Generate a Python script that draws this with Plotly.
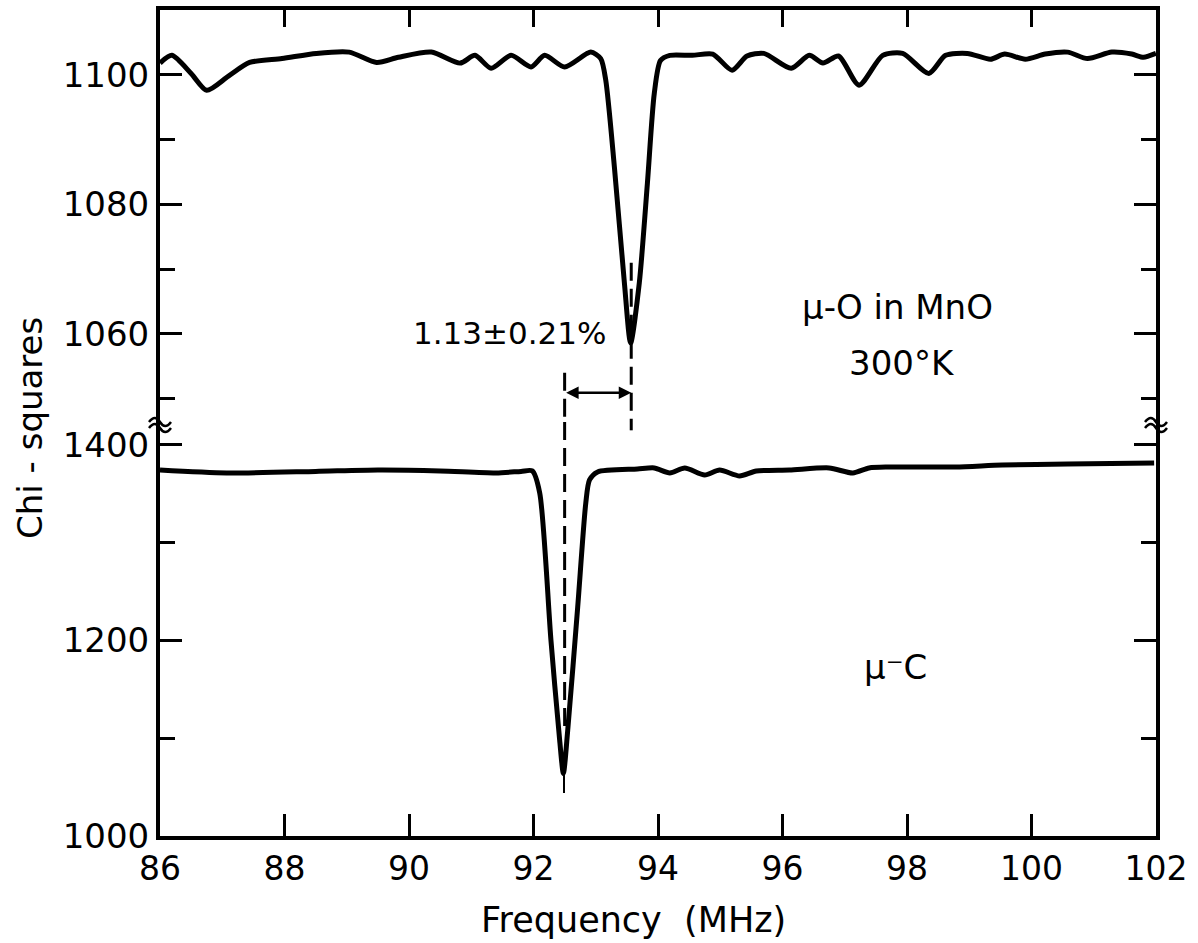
"""Chi-squares vs. frequency for mu-O in MnO and mu-C, rebuilt with Plotly."""

from __future__ import annotations

import plotly.graph_objects as go

# mu-O in MnO at 300 K (upper panel)
MNO_FREQ = [
    86.0, 86.19, 86.5, 86.75, 87.1, 87.44, 87.96, 88.51, 89.04, 89.48, 89.83,
    90.36, 90.82, 91.06, 91.32, 91.64, 91.96, 92.18, 92.5, 92.92, 93.08,
    93.16, 93.3, 93.46, 93.56, 93.7, 93.83, 93.94, 94.04, 94.19, 94.55,
    94.88, 95.19, 95.43, 95.7, 96.14, 96.43, 96.65, 96.9, 97.23, 97.61,
    97.93, 98.35, 98.62, 98.97, 99.34, 99.57, 99.9, 100.22, 100.58, 100.9,
    101.29, 101.61, 101.8, 102.0,
]
MNO_CHI2 = [
    1101.8, 1103.0, 1100.2, 1097.6, 1099.8, 1101.9, 1102.5, 1103.3, 1103.5,
    1101.9, 1102.7, 1103.5, 1101.8, 1103.0, 1101.0, 1103.0, 1101.2, 1103.0,
    1101.2, 1103.5, 1102.5, 1099.2, 1085.7, 1067.9, 1058.6, 1067.9, 1083.3,
    1097.1, 1102.2, 1103.0, 1103.0, 1103.2, 1100.7, 1102.9, 1103.3, 1101.0,
    1103.0, 1101.8, 1102.9, 1098.4, 1103.0, 1103.3, 1100.2, 1103.0, 1103.3,
    1102.4, 1103.2, 1102.4, 1103.2, 1103.5, 1102.5, 1103.5, 1103.2, 1102.7,
    1103.3,
]

# mu-C (lower panel)
C_FREQ = [
    86.0, 87.07, 88.5, 89.5, 90.5, 91.4, 91.8, 91.98, 92.1, 92.28, 92.42,
    92.48, 92.55, 92.71, 92.84, 92.9, 93.03, 93.67, 93.94, 94.19, 94.43,
    94.75, 94.99, 95.31, 95.58, 96.11, 96.75, 97.13, 97.39, 97.71, 98.78,
    99.53, 100.58, 101.97,
]
C_CHI2 = [
    1374.4, 1371.4, 1373.0, 1374.4, 1373.5, 1371.4, 1373.0, 1373.5, 1351.0,
    1200.5, 1098.2, 1064.0, 1108.4, 1234.3, 1340.7, 1364.2, 1372.4, 1375.4,
    1376.5, 1371.4, 1376.5, 1369.3, 1374.4, 1368.3, 1373.4, 1374.4, 1376.5,
    1371.4, 1376.5, 1377.5, 1377.5, 1379.5, 1380.6, 1381.6,
]
C_SPIKE_FREQ = [92.49, 92.49]
C_SPIKE_CHI2 = [1068, 1044]

X_TICKS = [86, 88, 90, 92, 94, 96, 98, 100, 102]
UPPER_TICKS = [1060, 1080, 1100]
LOWER_TICKS = [1000, 1200, 1400]
UPPER_RANGE = [1046.4, 1110]
LOWER_RANGE = [1000, 1423.5]
BREAK = 0.5012  # paper height where the y axis is broken

# resonance centres and the shift between them
C_CENTER = 92.5
MNO_CENTER = 93.57
SHIFT_LEVEL = 1050.9
SHIFT_LABEL = "1.13±0.21%"

FONT = "DejaVu Sans"
INK = "black"


def axis_style(size: int) -> dict:
    return dict(
        showline=True,
        linecolor=INK,
        linewidth=4,
        ticks="inside",
        tickcolor=INK,
        tickwidth=3,
        showgrid=False,
        zeroline=False,
        tickfont=dict(family=FONT, size=size, color=INK),
    )


def dashed(x, y, xa, ya) -> go.Scatter:
    return go.Scatter(
        x=x, y=y, xaxis=xa, yaxis=ya, mode="lines", hoverinfo="skip",
        line=dict(color=INK, width=3, dash="18px,8px"), showlegend=False,
    )


fig = go.Figure()

fig.add_trace(go.Scatter(
    x=MNO_FREQ, y=MNO_CHI2, xaxis="x", yaxis="y", mode="lines",
    line=dict(color=INK, width=5, shape="spline", smoothing=0.7),
    name="mu-O in MnO", showlegend=False,
))
fig.add_trace(go.Scatter(
    x=C_FREQ, y=C_CHI2, xaxis="x2", yaxis="y2", mode="lines",
    line=dict(color=INK, width=5, shape="spline", smoothing=0.7),
    name="mu-C", showlegend=False,
))
fig.add_trace(go.Scatter(
    x=C_SPIKE_FREQ, y=C_SPIKE_CHI2, xaxis="x2", yaxis="y2", mode="lines",
    line=dict(color=INK, width=2), hoverinfo="skip", showlegend=False,
))

# dashed guides through both resonance centres, crossing the axis break
fig.add_trace(dashed([C_CENTER] * 2, [1054, UPPER_RANGE[0]], "x", "y"))
fig.add_trace(dashed([C_CENTER] * 2, [LOWER_RANGE[1], 1112], "x2", "y2"))
fig.add_trace(dashed([MNO_CENTER] * 2, [1071, UPPER_RANGE[0]], "x", "y"))
fig.add_trace(dashed([MNO_CENTER] * 2, [LOWER_RANGE[1], 1415], "x2", "y2"))

fig.update_layout(
    width=1198,
    height=943,
    margin=dict(l=160, r=36, t=10, b=107),
    paper_bgcolor="white",
    plot_bgcolor="white",
    font=dict(family=FONT, color=INK),
    showlegend=False,
    xaxis=dict(
        **axis_style(32), anchor="y", side="top", domain=[0, 1],
        range=[86, 102], tickvals=X_TICKS, ticklen=17, showticklabels=False,
    ),
    xaxis2=dict(
        **axis_style(33), anchor="y2", side="bottom", domain=[0, 1],
        range=[86, 102], tickvals=X_TICKS, ticklen=22,
    ),
    yaxis=dict(
        **axis_style(34), anchor="x", domain=[BREAK, 1], mirror="ticks",
        range=UPPER_RANGE, tickvals=UPPER_TICKS, ticklen=22,
        minor=dict(dtick=10, ticklen=15, tickwidth=3, tickcolor=INK, ticks="inside"),
    ),
    yaxis2=dict(
        **axis_style(34), anchor="x2", domain=[0, BREAK], mirror="ticks",
        range=LOWER_RANGE, tickvals=LOWER_TICKS, ticklen=22,
        minor=dict(dtick=100, ticklen=15, tickwidth=3, tickcolor=INK, ticks="inside"),
    ),
)

# shift arrow between the two centres
fig.add_annotation(
    x=MNO_CENTER, y=SHIFT_LEVEL, ax=C_CENTER, ay=SHIFT_LEVEL,
    xref="x", yref="y", axref="x", ayref="y", text="", showarrow=True,
    arrowhead=2, startarrowhead=2, arrowside="end+start", arrowsize=1,
    arrowwidth=2.5, arrowcolor=INK,
)

label_font = dict(family=FONT, size=34, color=INK)
fig.add_annotation(x=91.62, y=1060.2, xref="x", yref="y", text=SHIFT_LABEL,
                   showarrow=False, font=dict(family=FONT, size=31, color=INK))
fig.add_annotation(x=97.84, y=1064.2, xref="x", yref="y", text="μ-O in MnO",
                   showarrow=False, font=label_font)
fig.add_annotation(x=97.92, y=1055.5, xref="x", yref="y", text="300°K",
                   showarrow=False, font=label_font)
fig.add_annotation(x=97.82, y=1172.9, xref="x2", yref="y2", text="μ⁻C",
                   showarrow=False, font=label_font)

# axis titles
fig.add_annotation(x=93.6, y=0, xref="x2", yref="paper", yshift=-84,
                   xanchor="center", yanchor="middle",
                   text="Frequency  (MHz)", showarrow=False,
                   font=dict(family=FONT, size=35, color=INK))
fig.add_annotation(x=0, y=0.494, xref="paper", yref="paper", xshift=-130,
                   xanchor="center", yanchor="middle",
                   text="Chi - squares", textangle=-90, showarrow=False,
                   font=dict(family=FONT, size=34, color=INK))

# axis-break marks on both vertical axes
squiggle = "M -11 0 Q -5 8 0 0 T 11 0 M -11 -6 Q -5 2 0 -6 T 11 -6"
for side in (0, 1):
    fig.add_shape(
        type="path", path=squiggle, xref="paper", yref="paper",
        xsizemode="pixel", ysizemode="pixel", xanchor=side, yanchor=BREAK,
        line=dict(color=INK, width=2.5),
    )

# drop the browser's default body margin so the figure fills the window
fig.write_html(
    "out.html",
    config={"displayModeBar": False},
    post_script="document.body.style.margin = '0';",
)
